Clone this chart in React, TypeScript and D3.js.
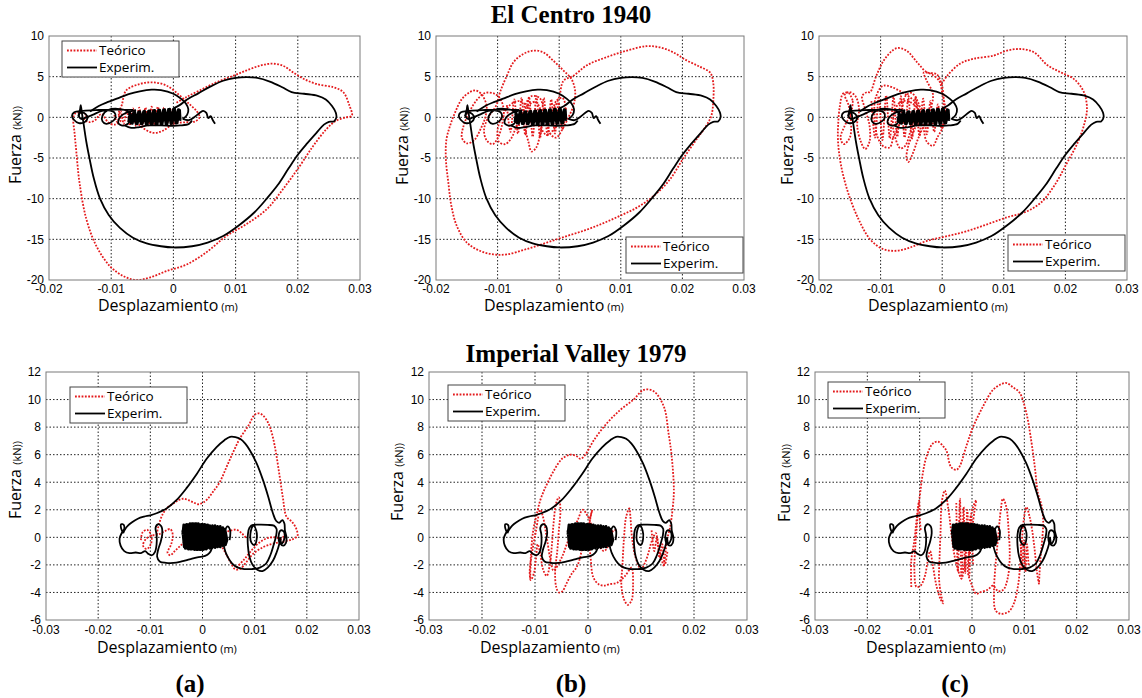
import React from 'react';
import * as d3 from 'd3';

type P = [number, number];

// ---------- text ----------
const titleTop = 'El Centro 1940';
const titleBottom = 'Imperial Valley 1979';
const panelLetters = ['(a)', '(b)', '(c)'];
const legendLabels = ['Teórico', 'Experim.'];
const yLabelMain = 'Fuerza ';
const yLabelUnit = '(kN))';
const xLabelMain = 'Desplazamiento';
const xLabelUnit = ' (m)';

// ---------- ticks ----------
const xTicksTop = [-0.02, -0.01, 0, 0.01, 0.02, 0.03];
const xTickLabelsTop = ['-0.02', '-0.01', '0', '0.01', '0.02', '0.03'];
const yTicksTop = [-20, -15, -10, -5, 0, 5, 10];
const yTickLabelsTop = ['-20', '-15', '-10', '-5', '0', '5', '10'];
const xTicksBottom = [-0.03, -0.02, -0.01, 0, 0.01, 0.02, 0.03];
const xTickLabelsBottom = ['-0.03', '-0.02', '-0.01', '0', '0.01', '0.02', '0.03'];
const yTicksBottom = [-6, -4, -2, 0, 2, 4, 6, 8, 10, 12];
const yTickLabelsBottom = ['-6', '-4', '-2', '0', '2', '4', '6', '8', '10', '12'];

// ---------- El Centro, experimental (same in a, b, c) ----------
const elcExpLoop: P[] = [[-0.0153,0.1],[-0.015,1.0],[-0.0149,1.5],[-0.0147,0.5],[-0.0144,-1],[-0.014,-3],[-0.0135,-5],[-0.0128,-7.5],[-0.0118,-10],[-0.0104,-12],[-0.0086,-13.6],[-0.0065,-14.8],[-0.0043,-15.5],[-0.002,-15.85],[0,-16],[0.003,-15.85],[0.0055,-15.4],[0.008,-14.6],[0.0105,-13.3],[0.013,-11.7],[0.015,-10],[0.0168,-8.3],[0.0185,-6.3],[0.02,-4.6],[0.0215,-3.2],[0.023,-1.9],[0.0242,-0.9],[0.025,-0.55],[0.0258,-0.5],[0.0262,0],[0.0261,0.6],[0.0255,1.4],[0.0245,2.2],[0.0232,2.65],[0.021,2.9],[0.019,3.1],[0.0175,3.7],[0.0155,4.4],[0.0135,4.85],[0.0118,4.95],[0.01,4.85],[0.008,4.5],[0.006,3.8],[0.004,2.95],[0.0022,2.2],[0.001,1.5],[0,1.1]];
const elcExpArc: P[] = [[-0.0134,0.7],[-0.012,1.4],[-0.0105,1.9],[-0.0091,2.3],[-0.0072,2.85],[-0.0054,3.2],[-0.0035,3.4],[-0.002,3.35],[0,2.9],[0.0012,2.3],[0.002,1.7],[0.0024,1.0],[0.0022,0.3],[0.0015,-0.2]];
const elcExpLeft: P[] = [[-0.0065,0.9],[-0.009,0.95],[-0.012,0.9],[-0.0145,0.8],[-0.016,0.6],[-0.0163,0.2],[-0.016,-0.3],[-0.0152,-0.7],[-0.0143,-0.6],[-0.0138,-0.1],[-0.0141,0.4],[-0.0148,0.6],[-0.0152,0.2],[-0.0148,-0.2],[-0.014,0.0],[-0.013,0.3],[-0.0115,0.8],[-0.0105,0.85],[-0.0095,0.6],[-0.0093,0],[-0.0098,-0.5],[-0.0108,-0.8],[-0.0114,-0.5],[-0.0114,0.2],[-0.0105,0.9],[-0.009,1.05],[-0.0075,0.8],[-0.0068,0.2],[-0.007,-0.5],[-0.0078,-1.0],[-0.0088,-0.8],[-0.0086,0],[-0.0075,0.6],[-0.006,0.9]];
const elcExpLower: P[] = [[-0.0078,-1.0],[-0.0068,-1.3],[-0.0055,-1.2],[-0.004,-1.0],[-0.002,-1.0],[0,-1.05],[0.0011,-1.0],[0.0025,-0.8],[0.003,-0.4]];
const elcExpTail: P[] = [[0.0015,-0.2],[0.0025,-0.35],[0.0035,0.1],[0.0043,0.6],[0.0048,0.8],[0.0053,0.55],[0.0056,-0.1],[0.006,0.15],[0.0063,-0.3],[0.0067,-0.8]];
const elcExpCluster: P[] = [[-0.0072,-0.6],[-0.007,0.55],[-0.0066,-0.75],[-0.0062,0.65],[-0.0058,-0.8],[-0.0054,0.7],[-0.005,-0.8],[-0.0046,0.75],[-0.0042,-0.85],[-0.0038,0.8],[-0.0034,-0.85],[-0.003,0.85],[-0.0026,-0.85],[-0.0022,0.9],[-0.0018,-0.8],[-0.0014,0.95],[-0.001,-0.8],[-0.0006,1.0],[-0.0002,-0.75],[0.0002,1.05],[0.0006,-0.7],[0.001,0.9],[0.0011,-0.3],[0.0008,0.95],[0.0004,-0.72],[0,1.0],[-0.0004,-0.78],[-0.0008,0.98],[-0.0012,-0.8],[-0.0016,0.92],[-0.002,-0.82],[-0.0024,0.88],[-0.0028,-0.85],[-0.0032,0.82],[-0.0036,-0.85],[-0.004,0.78],[-0.0044,-0.82],[-0.0048,0.72],[-0.0052,-0.8],[-0.0056,0.68],[-0.006,-0.78],[-0.0064,0.6],[-0.0068,-0.72],[-0.0071,0.5]];

// ---------- El Centro, theoretical (a) ----------
const elcTeoALoop: P[] = [[0.0005,1.8],[0.0021,2.5],[0.0042,3.3],[0.0069,4.3],[0.0096,5.1],[0.0117,5.75],[0.0139,6.35],[0.0158,6.6],[0.0176,6.35],[0.0192,5.55],[0.0209,4.75],[0.023,4.1],[0.0257,3.7],[0.0273,3.1],[0.0283,1.45],[0.0287,0.2],[0.0278,0],[0.0262,-0.4],[0.0246,-1.45],[0.0225,-3.5],[0.0203,-6],[0.0176,-8.85],[0.015,-11.3],[0.0117,-13.15],[0.0085,-14.6],[0.0053,-16.6],[0.0021,-18.1],[-0.0011,-18.9],[-0.0038,-19.7],[-0.006,-20],[-0.0081,-19.5],[-0.0102,-18.3],[-0.0124,-15.8],[-0.014,-12.5],[-0.0151,-8],[-0.0156,-4.3],[-0.0159,-1.85],[-0.0161,-0.2],[-0.0159,0.4],[-0.015,0.6],[-0.014,0.3],[-0.0143,-0.3],[-0.0135,-0.6],[-0.0125,-0.3],[-0.012,0.2],[-0.0115,0.4],[-0.0105,-0.6],[-0.0095,-0.9],[-0.0085,-0.4],[-0.0088,0.5],[-0.0083,1.5],[-0.0076,3.3],[-0.0054,4.1],[-0.0033,4.3],[-0.0011,3.9],[0.001,2.7],[0.0026,1.6],[0.0037,0.8],[0.0042,0],[0.0035,-0.5],[0.002,-0.6],[0,-0.8],[-0.0017,-1.65],[-0.0033,-1.9],[-0.0054,-1.0],[-0.006,-0.3],[-0.005,0.4],[-0.003,0.7],[-0.001,0.5],[0.0005,0.2]];
const elcTeoACluster: P[] = [[-0.0095,0.3],[-0.009,-0.6],[-0.0085,0.8],[-0.008,-0.8],[-0.0075,1.0],[-0.007,-1.0],[-0.0065,1.1],[-0.006,-1.1],[-0.0055,1.2],[-0.005,-1.1],[-0.0045,1.2],[-0.004,-1.0],[-0.0035,1.3],[-0.003,-1.0],[-0.0025,1.3],[-0.002,-0.9],[-0.0015,1.2],[-0.001,-0.8],[-0.0005,1.0],[0,-0.6],[0.0005,0.8]];

// ---------- El Centro, theoretical (b) ----------
const elcTeoBLoop: P[] = [[-0.001,0.8],[0,2.5],[0.0007,4.5],[0.0023,5.1],[0.0045,6.4],[0.0077,7.4],[0.011,8.2],[0.0142,8.75],[0.0164,8.6],[0.0185,8.0],[0.0207,7.0],[0.0229,6.2],[0.0245,5.5],[0.025,4.3],[0.025,1.85],[0.0247,0.2],[0.0239,-1.0],[0.0223,-2.7],[0.0201,-5.1],[0.018,-7.6],[0.0153,-9.7],[0.0126,-11.1],[0.0099,-12.1],[0.0072,-13],[0.0045,-13.8],[0.0012,-14.6],[-0.002,-15.4],[-0.0053,-16.2],[-0.0085,-16.85],[-0.0107,-16.85],[-0.0129,-16.4],[-0.015,-15.4],[-0.0166,-13.4],[-0.0175,-10.9],[-0.018,-8],[-0.0184,-5.1],[-0.0183,-2.7],[-0.0177,-1.0],[-0.0169,0.6],[-0.0158,2.25],[-0.0145,3.1],[-0.0135,3.3],[-0.0125,2.8]];
const elcTeoBSwirl: P[] = [[-0.0125,2.8],[-0.0118,1.5],[-0.012,0],[-0.0128,-1.5],[-0.0138,-2.8],[-0.015,-3.2],[-0.0158,-2.5],[-0.0155,-1.0],[-0.0145,0.8],[-0.0133,2.2],[-0.012,3.0],[-0.0105,2.9],[-0.0095,2.2],[-0.009,0.8],[-0.0093,-1.0],[-0.01,-2.6],[-0.0108,-3.3],[-0.0118,-2.8],[-0.0122,-1.5],[-0.0115,0],[-0.0102,1.5],[-0.0096,3.1],[-0.0085,5.1],[-0.0074,6.8],[-0.0058,7.8],[-0.0042,8.2],[-0.0026,8.0],[-0.001,7.0],[0.0007,5.75],[0.002,4.7],[0.0026,3.1],[0.0023,1.4],[0.0015,0],[0.0005,-1.5],[-0.0005,-2.5],[-0.0015,-2.0],[-0.002,-0.5],[-0.0025,1.0],[-0.0032,2.4],[-0.0045,2.6],[-0.0055,1.5],[-0.0058,0],[-0.0055,-1.5],[-0.005,-3.0],[-0.0045,-4.2],[-0.0038,-3.8],[-0.0032,-2.5],[-0.0028,-0.8],[-0.003,0.8],[-0.0038,1.9],[-0.0048,1.6],[-0.006,0.5],[-0.007,-1.2],[-0.0078,-2.6],[-0.0088,-3.3],[-0.0098,-3.0],[-0.01,-1.5],[-0.0092,0.2],[-0.008,1.5],[-0.0065,2.0],[-0.005,1.2],[-0.004,0],[-0.003,-1.3],[-0.002,-2.2],[-0.001,-1.6],[0,-0.5],[0.0008,0.5],[0.001,1.5],[0.0005,2.4],[-0.0005,2.0],[-0.001,0.8]];
const elcTeoBCluster: P[] = [[-0.0085,1.5],[-0.0079,-1.8],[-0.0073,2.2],[-0.0067,-2.0],[-0.0061,2.4],[-0.0055,-2.2],[-0.0049,2.5],[-0.0043,-2.4],[-0.0037,2.6],[-0.0031,-2.5],[-0.0025,2.4],[-0.0019,-2.3],[-0.0013,2.2],[-0.0007,-2.0],[-0.0001,1.8],[0.0005,-1.5],[0.0011,1.2]];

// ---------- El Centro, theoretical (c) ----------
const elcTeoCLoop: P[] = [[-0.0001,4.1],[0.0008,5.1],[0.0029,6.6],[0.0051,7.2],[0.0084,7.6],[0.0105,8.2],[0.0127,8.4],[0.0149,8.0],[0.0171,6.4],[0.0192,5.55],[0.0214,4.7],[0.023,3.1],[0.0235,1.0],[0.023,-1.0],[0.022,-3.1],[0.0203,-5.55],[0.0182,-8.4],[0.016,-10.5],[0.0133,-11.7],[0.0105,-12.3],[0.0073,-13.15],[0.004,-14],[0.0008,-14.6],[-0.0025,-15.2],[-0.0052,-16],[-0.0074,-16.4],[-0.0096,-16.2],[-0.0117,-15],[-0.0136,-12.5],[-0.0153,-9.2],[-0.0164,-6],[-0.0169,-3.1],[-0.0169,-1],[-0.0166,1.45],[-0.0161,2.9],[-0.0152,3.0],[-0.0145,2.0]];
const elcTeoCSwirl: P[] = [[-0.0145,2.0],[-0.0148,0.5],[-0.0158,-1.0],[-0.0165,-2.5],[-0.016,-3.3],[-0.015,-2.5],[-0.0148,-0.5],[-0.0152,1.5],[-0.0158,2.8],[-0.015,3.1],[-0.014,2.5],[-0.0135,1.0],[-0.0138,-1.0],[-0.0132,-3.0],[-0.0125,-3.9],[-0.0118,-3.0],[-0.0118,-1.0],[-0.0125,1.0],[-0.013,2.6],[-0.0122,3.1],[-0.0117,3.1],[-0.0107,5.1],[-0.0093,7.2],[-0.0074,8.5],[-0.0058,8.2],[-0.0041,6.8],[-0.0025,5.55],[-0.0009,5.3],[-0.0001,4.1],[0.0002,2.7],[0.0001,1.0],[-0.0008,-0.5]];
const elcTeoCSwirl2: P[] = [[-0.008,-2.5],[-0.007,-1.0],[-0.0065,1.0],[-0.006,2.6],[-0.005,3.0],[-0.004,2.0],[-0.0035,0.5],[-0.0045,-1.5],[-0.0055,-3.5],[-0.0058,-5.0],[-0.0055,-5.5],[-0.0048,-4.5],[-0.004,-2.8],[-0.003,-1.0],[-0.002,0.8],[-0.0015,2.8],[-0.0025,4.5],[-0.003,5.5],[-0.002,5.4],[-0.0005,4.5],[0,3.0],[0.0005,1.0],[0.0002,-1.0],[-0.0008,-2.5],[-0.0015,-3.5],[-0.0025,-3.0],[-0.003,-1.5],[-0.0035,0.5],[-0.005,1.8],[-0.0065,2.0],[-0.0075,1.2],[-0.008,-0.5],[-0.0078,-2.0],[-0.0068,-3.8],[-0.006,-3.5],[-0.0052,-1.8],[-0.0045,0],[-0.004,1.5],[-0.0095,3.9],[-0.0108,2.4],[-0.011,0.5],[-0.0105,-2.4],[-0.0095,-3.6],[-0.0085,-3.7],[-0.008,-2.5]];
const elcTeoCCluster: P[] = [[-0.0115,2.0],[-0.0109,-2.5],[-0.0103,2.6],[-0.0097,-2.8],[-0.0091,2.7],[-0.0085,-2.6],[-0.0079,2.5],[-0.0073,-2.4],[-0.0067,2.6],[-0.0061,-2.5],[-0.0055,2.4],[-0.0049,-2.6],[-0.0043,2.5],[-0.0037,-2.3],[-0.0031,2.3],[-0.0025,-2.1],[-0.0019,2.0],[-0.0013,-1.8],[-0.0007,1.6],[-0.0001,-1.4],[0.0005,1.2]];

// ---------- Imperial Valley, experimental (same in a, b, c) ----------
const ivExpHump: P[] = [[-0.0152,0.3],[-0.0149,0.55],[-0.0143,0.85],[-0.0135,1.1],[-0.0124,1.35],[-0.0112,1.5],[-0.01,1.6],[-0.0088,1.75],[-0.0069,2.1],[-0.005,2.7],[-0.0031,3.55],[-0.0011,4.6],[0.0008,5.7],[0.0027,6.55],[0.0042,7.05],[0.0053,7.3],[0.0063,7.28],[0.0072,7.15],[0.0082,6.8],[0.0091,6.3],[0.0104,5.35],[0.0116,4.15],[0.0126,2.95],[0.0135,1.75],[0.0141,1.2],[0.0147,1.05],[0.0153,1.25],[0.0157,1.0],[0.0158,0.5],[0.0161,0],[0.016,-0.4],[0.0155,-0.6],[0.0148,-0.4],[0.0146,0.1],[0.015,0.5],[0.0156,0.4],[0.0157,-0.1],[0.0152,-0.45],[0.0149,0]];
const ivExpLower: P[] = [[0.0149,0],[0.0147,-0.5],[0.0142,-1.1],[0.0135,-1.7],[0.0125,-2.2],[0.0115,-2.45],[0.0105,-2.35],[0.0096,-2.0],[0.009,-1.4],[0.0087,-0.6],[0.0087,0.2],[0.009,0.7],[0.0097,0.9],[0.0103,0.5],[0.0104,-0.1],[0.01,-0.55],[0.0094,-0.4],[0.0092,0.3],[0.0098,0.88],[0.011,0.92],[0.0125,0.9],[0.0137,0.85],[0.0142,0.6],[0.0141,0.1],[0.0136,-0.6],[0.013,-1.3],[0.0122,-1.9],[0.011,-2.2],[0.0095,-2.3],[0.008,-2.3],[0.0068,-2.2],[0.0057,-1.9],[0.0048,-1.4],[0.0042,-0.8],[0.004,-0.1],[0.0043,0.5],[0.0048,0.8],[0.0053,0.5],[0.0052,-0.2]];
const ivExpLeft: P[] = [[-0.0152,0.3],[-0.0156,0.65],[-0.0156,0.95],[-0.0151,0.9],[-0.015,0.6],[-0.0155,0.3],[-0.0159,-0.1],[-0.0157,-0.6],[-0.015,-1.0],[-0.014,-1.15],[-0.0128,-1.1],[-0.0118,-1.15],[-0.011,-1.0],[-0.0104,-1.2],[-0.0097,-1.3],[-0.0091,-1.05],[-0.0088,-0.5],[-0.0088,0.2],[-0.009,0.7],[-0.0085,0.95],[-0.0079,0.8],[-0.0077,0.3],[-0.008,-0.3],[-0.0085,-0.9],[-0.0087,-1.4],[-0.0082,-1.75],[-0.007,-1.85],[-0.0056,-1.86],[-0.004,-1.75],[-0.0025,-1.6],[-0.001,-1.45],[0.0005,-1.35],[0.0013,-1.15],[0.0018,-0.8],[0.002,-0.3]];
const ivExpCluster: P[] = [[-0.0038,0.2],[-0.0036,0.9],[-0.0033,-0.8],[-0.003,0.95],[-0.0027,-0.85],[-0.0024,1.0],[-0.0021,-0.85],[-0.0018,1.0],[-0.0015,-0.9],[-0.0012,1.0],[-0.0009,-0.9],[-0.0006,0.95],[-0.0003,-0.9],[0,0.95],[0.0003,-0.85],[0.0006,0.9],[0.0009,-0.8],[0.0014,0.85],[0.0019,-0.75],[0.0024,0.85],[0.0029,-0.7],[0.0034,0.8],[0.0039,-0.6],[0.0043,0.6],[0.0047,-0.2],[0.0044,-0.55],[0.0039,0.7],[0.0034,-0.7],[0.0029,0.8],[0.0024,-0.75],[0.0019,0.85],[0.0014,-0.8],[0.001,0.9],[0.0007,-0.85],[0.0004,0.95],[0.0001,-0.9],[-0.0002,0.95],[-0.0005,-0.9],[-0.0008,1.0],[-0.0011,-0.9],[-0.0014,1.0],[-0.0017,-0.85],[-0.002,1.0],[-0.0023,-0.85],[-0.0026,0.95],[-0.0029,-0.8],[-0.0032,0.9],[-0.0035,-0.7],[-0.0038,0.5]];

// ---------- Imperial Valley, theoretical (a) ----------
const ivTeoAHump: P[] = [[-0.0088,0.2],[-0.0083,1.0],[-0.0076,1.7],[-0.0066,2.2],[-0.0056,2.45],[-0.0046,2.7],[-0.0037,2.8],[-0.0027,2.7],[-0.0018,2.55],[-0.0008,2.4],[0.0002,2.55],[0.0009,2.75],[0.002,3.3],[0.0033,4.0],[0.0046,5.1],[0.0059,6.2],[0.0072,7.2],[0.0088,8.1],[0.01,8.9],[0.0108,9.0],[0.0116,8.85],[0.0126,8.3],[0.0134,7.4],[0.0141,6.1],[0.0148,4.4],[0.0154,2.9],[0.0161,1.5],[0.0172,1.1],[0.018,0.6],[0.0182,0.1],[0.0172,-0.15],[0.0155,-0.3],[0.0136,-0.45],[0.0117,-0.7],[0.0097,-1.2],[0.0084,-1.8],[0.0072,-2.3],[0.0062,-2.3],[0.0055,-1.9],[0.0045,-1.2],[0.0035,-0.6],[0.002,-0.3]];
const ivTeoADiag: P[] = [[0.0065,-2.2],[0.008,-1.6],[0.0095,-0.9],[0.011,-0.35],[0.0125,-0.05],[0.014,0.0],[0.0152,-0.1],[0.0158,0.3],[0.0155,-0.4]];
const ivTeoAWaves: P[] = [[-0.0118,-0.2],[-0.0115,0.35],[-0.0106,0.55],[-0.0098,0.1],[-0.0099,-0.5],[-0.0107,-0.85],[-0.0114,-0.6],[-0.0108,-0.1],[-0.0095,0.15],[-0.0085,0.2],[-0.0072,0.45],[-0.0062,0.6],[-0.0057,0.2],[-0.006,-0.5],[-0.0067,-1.1],[-0.0062,-1.3],[-0.0052,-0.95],[-0.0042,-0.6],[-0.003,-0.1],[-0.002,0.2],[-0.001,0.0],[0.0005,-0.3],[0.002,-0.3],[0.0035,0.2],[0.005,0.45],[0.0065,0.55],[0.0075,0.3],[0.0085,-0.1]];

// ---------- Imperial Valley, theoretical (b) ----------
const ivTeoBHump: P[] = [[-0.0109,-3.0],[-0.0108,-1.5],[-0.0105,0],[-0.0102,0.8],[-0.0096,1.8],[-0.009,2.7],[-0.0083,3.4],[-0.0077,3.9],[-0.0065,4.8],[-0.0049,5.7],[-0.0033,6.0],[-0.0022,5.9],[-0.0014,5.7],[-0.0005,6.0],[0.0011,7.05],[0.0036,8.3],[0.0061,9.25],[0.0086,10.0],[0.0105,10.7],[0.0124,10.6],[0.0143,9.5],[0.0152,7.55],[0.0158,5.85],[0.0162,3.4],[0.016,2.2],[0.0155,0.75],[0.0149,-0.2],[0.0146,-1.2],[0.0143,-2.1]];
const ivTeoBSwirl: P[] = [[0.0143,-2.1],[0.0138,-1.5],[0.0132,-0.5],[0.0128,0.3],[0.012,-0.3],[0.0115,-1.0],[0.0108,-1.8],[0.01,-2.3],[0.009,-1.5],[0.0083,0],[0.008,1.5],[0.0078,2.1],[0.0072,1.5],[0.0068,0],[0.0065,-2],[0.0063,-3.5],[0.0068,-4.5],[0.0075,-4.9],[0.0082,-4.6],[0.0085,-3.5],[0.0082,-2.2],[0.007,-2.8],[0.0055,-3.3],[0.004,-3.4],[0.003,-3.5],[0.002,-3.4],[0.001,-2.9],[0.0005,-1.5],[0.0002,0],[0.0003,1.2],[0.0008,2.0],[0.0005,1.5],[0,0.5],[-0.001,-0.5],[-0.0015,-1.5],[-0.0022,-2.2],[-0.003,-2.6],[-0.004,-3.3],[-0.0048,-3.9],[-0.0055,-4.0],[-0.006,-3.6],[-0.0062,-2.5],[-0.0058,-1.0],[-0.0055,0.5],[-0.0052,2.0],[-0.0055,2.9],[-0.006,2.5],[-0.0065,1.0],[-0.0068,-0.5],[-0.0072,-2.0],[-0.0078,-2.8],[-0.0085,-2.3],[-0.009,-1.2],[-0.0095,-0.5],[-0.0098,-1.5],[-0.0102,-2.6],[-0.0108,-3.1],[-0.011,-2.5],[-0.0105,-1.0],[-0.0098,0.5],[-0.009,2.0],[-0.0085,1.5],[-0.0078,0],[-0.007,-1.8],[-0.0065,-2.4],[-0.005,-1.5],[-0.004,-0.5],[-0.003,0.5],[-0.002,1.2],[-0.001,2.0],[0,1.5],[0.001,0.5],[0.002,-0.5],[0.003,-1.0],[0.004,-0.5],[0.0048,0.5],[0.0055,0.5]];
const ivTeoBRight: P[] = [[0.012,0.5],[0.0125,-1.0],[0.013,0],[0.0135,-1.5],[0.014,-0.5],[0.0145,-2],[0.015,-1]];

// ---------- Imperial Valley, theoretical (c) ----------
const ivTeoCHump: P[] = [[-0.0116,-3.6],[-0.0116,-1.67],[-0.011,-0.2],[-0.0106,1.24],[-0.01,2.94],[-0.0094,4.64],[-0.0087,5.85],[-0.0075,6.8],[-0.0065,6.94],[-0.0055,6.6],[-0.0049,6.3],[-0.004,5.1],[-0.003,4.9],[-0.0024,5.12],[-0.0011,6.6],[0.0002,8.0],[0.0021,9.5],[0.004,10.7],[0.0055,11.1],[0.0066,11.2],[0.0078,10.9],[0.0091,10.5],[0.0104,9.0],[0.0113,7.06],[0.012,5.12],[0.0126,3.18],[0.0132,2.45],[0.0136,1.24],[0.0134,-0.22],[0.0131,-1.43],[0.0129,-2.65],[0.0128,-3.4]];
const ivTeoCSwirl: P[] = [[0.0128,-3.4],[0.0124,-2.5],[0.012,-1.0],[0.0115,0.5],[0.011,1.5],[0.0104,2.2],[0.0098,1.0],[0.0095,-0.5],[0.0092,-2.0],[0.0088,-3.5],[0.008,-4.8],[0.007,-5.4],[0.0055,-5.55],[0.0045,-5.3],[0.0042,-4.0],[0.0045,-2.0],[0.005,0],[0.0055,2.0],[0.0059,2.8],[0.0065,2.3],[0.007,0.5],[0.0072,-1.5],[0.0068,-3.0],[0.006,-3.8],[0.005,-3.9],[0.004,-3.5],[0.003,-3.8],[0.0015,-4.0],[0.0008,-4.1],[0,-3.5],[-0.0008,-2.5],[-0.0005,-1.0],[0,0.5],[0.0005,2.0],[0.0008,2.7],[0.0002,2.2],[-0.0005,1.0],[-0.001,-0.5],[-0.0015,-2.0],[-0.002,-3.0],[-0.0028,-2.2],[-0.0035,-1.0],[-0.004,0.5],[-0.0045,2.0],[-0.0052,3.4],[-0.0058,2.5],[-0.006,0.5],[-0.0062,-1.5],[-0.0063,-3.0],[-0.0059,-4.2],[-0.0055,-4.8],[-0.006,-4.5],[-0.0068,-3.5],[-0.0075,-2.0],[-0.008,-1.0],[-0.0085,-1.8],[-0.009,-2.8],[-0.0098,-3.5],[-0.0106,-3.6],[-0.011,-2.5],[-0.0108,-0.5],[-0.0105,1.0],[-0.0103,2.2],[-0.0101,2.6],[-0.01,1.5],[-0.0098,0.5]];
const ivTeoCHatch: P[] = [[-0.003,2.5],[-0.0027,-2.5],[-0.0023,2.8],[-0.002,-3.0],[-0.0016,2.2],[-0.0013,-2.6],[-0.0009,2.0],[-0.0005,-2.8],[-0.0002,1.6],[0.0002,-2.0]];
const ivTeoCHatch2: P[] = [[0.0093,-0.5],[0.0096,-2.3],[0.0099,-0.2],[0.0102,-2.5],[0.0105,-0.5],[0.0108,-2.0]];

// ---------- layout ----------
const RED = '#e41a1c';
type PanelCfg = {
  id: string; xr: [number, number]; yr: [number, number]; xd: [number, number]; yd: [number, number];
  xTicks: number[]; xLabels: string[]; yTicks: number[]; yLabels: string[]; xLabY: number;
  teo: P[][]; exp: P[][]; expDense: P[][]; legend: [number, number]; yAxis: [number, number]; xAxis: [number, number];
};
const elcExp = [elcExpLoop, elcExpArc, elcExpLeft, elcExpLower, elcExpTail];
const ivExp = [ivExpHump, ivExpLower, ivExpLeft];
const top = { xd: [-0.02, 0.03] as [number, number], yd: [-20, 10] as [number, number], yr: [280, 36] as [number, number], xTicks: xTicksTop, xLabels: xTickLabelsTop, yTicks: yTicksTop, yLabels: yTickLabelsTop, xLabY: 293 };
const bot = { xd: [-0.03, 0.03] as [number, number], yd: [-6, 12] as [number, number], yr: [620, 372] as [number, number], xTicks: xTicksBottom, xLabels: xTickLabelsBottom, yTicks: yTicksBottom, yLabels: yTickLabelsBottom, xLabY: 634 };
const PANELS: PanelCfg[] = [
  { id: 'ta', ...top, xr: [49, 360], teo: [elcTeoACluster, elcTeoALoop], exp: elcExp, expDense: [elcExpCluster], legend: [62, 41], yAxis: [21, 145], xAxis: [98, 311] },
  { id: 'tb', ...top, xr: [436, 744], teo: [elcTeoBCluster, elcTeoBSwirl, elcTeoBLoop], exp: elcExp, expDense: [elcExpCluster], legend: [626, 237], yAxis: [408, 146], xAxis: [484, 311] },
  { id: 'tc', ...top, xr: [819, 1127], teo: [elcTeoCCluster, elcTeoCSwirl2, elcTeoCSwirl, elcTeoCLoop], exp: elcExp, expDense: [elcExpCluster], legend: [1008, 235], yAxis: [793, 146], xAxis: [868, 311] },
  { id: 'ba', ...bot, xr: [46, 359], teo: [ivTeoAWaves, ivTeoADiag, ivTeoAHump], exp: ivExp, expDense: [ivExpCluster], legend: [70, 387], yAxis: [21, 480], xAxis: [97, 653] },
  { id: 'bb', ...bot, xr: [429, 747], teo: [ivTeoBRight, ivTeoBSwirl, ivTeoBHump], exp: ivExp, expDense: [ivExpCluster], legend: [448, 385], yAxis: [403, 482], xAxis: [480, 653] },
  { id: 'bc', ...bot, xr: [815, 1129], teo: [ivTeoCHatch, ivTeoCHatch2, ivTeoCSwirl, ivTeoCHump], exp: ivExp, expDense: [ivExpCluster], legend: [828, 382], yAxis: [790, 483], xAxis: [866, 653] },
];
const LABEL_FONT = "'Open Sans', sans-serif";
const TICK_FONT = "'Liberation Sans', Arial, sans-serif";
const SERIF = "'Liberation Serif', 'Times New Roman', serif";

function Panel({ p }: { p: PanelCfg }) {
  const xs = d3.scaleLinear().domain(p.xd).range(p.xr);
  const ys = d3.scaleLinear().domain(p.yd).range(p.yr);
  const line = d3.line<P>().x(d => xs(d[0])).y(d => ys(d[1])).curve(d3.curveCatmullRom.alpha(0.5));
  const lineLin = d3.line<P>().x(d => xs(d[0])).y(d => ys(d[1]));
  const [L, R] = p.xr;
  const [B, T] = p.yr;
  const clipId = 'clip-' + p.id;
  const [lx, ly] = p.legend;
  return (
    <g>
      <defs>
        <clipPath id={clipId}><rect x={L} y={T} width={R - L} height={B - T} /></clipPath>
      </defs>
      {p.xTicks.slice(1, -1).map(t => (
        <line key={'gx' + t} x1={xs(t)} x2={xs(t)} y1={T} y2={B} stroke="#222" strokeWidth={1} strokeDasharray="1.5 2" />
      ))}
      {p.yTicks.slice(1, -1).map(t => (
        <line key={'gy' + t} x1={L} x2={R} y1={ys(t)} y2={ys(t)} stroke="#222" strokeWidth={1} strokeDasharray="1.5 2" />
      ))}
      <g clipPath={`url(#${clipId})`}>
        {p.teo.map((s, i) => (
          <path key={'t' + i} d={line(s) || ''} fill="none" stroke={RED} strokeWidth={1.8} strokeDasharray="1.8 1.5" />
        ))}
        {p.exp.map((s, i) => (
          <path key={'e' + i} d={line(s) || ''} fill="none" stroke="#000" strokeWidth={1.8} strokeLinejoin="round" />
        ))}
        {p.expDense.map((s, i) => (
          <path key={'d' + i} d={lineLin(s) || ''} fill="none" stroke="#000" strokeWidth={2.7} strokeLinejoin="round" />
        ))}
      </g>
      <rect x={L} y={T} width={R - L} height={B - T} fill="none" stroke="#7a7a7a" strokeWidth={1} />
      {p.xTicks.map((t, i) => (
        <text key={'xl' + t} x={xs(t)} y={p.xLabY} textAnchor="middle" fontFamily={TICK_FONT} fontSize={12} fill="#000">{p.xLabels[i]}</text>
      ))}
      {p.yTicks.map((t, i) => (
        <text key={'yl' + t} x={L - 5} y={ys(t) + 4.3} textAnchor="end" fontFamily={TICK_FONT} fontSize={12} fill="#000">{p.yLabels[i]}</text>
      ))}
      <g>
        <rect x={lx} y={ly} width={117} height={36} fill="#fff" stroke="#444" strokeWidth={1} />
        <line x1={lx + 5} x2={lx + 35} y1={ly + 9.5} y2={ly + 9.5} stroke={RED} strokeWidth={1.8} strokeDasharray="1.8 1.5" />
        <text x={lx + 37} y={ly + 14} fontFamily={LABEL_FONT} fontSize={13.5} fill="#000">{legendLabels[0]}</text>
        <line x1={lx + 5} x2={lx + 35} y1={ly + 26.5} y2={ly + 26.5} stroke="#000" strokeWidth={1.8} />
        <text x={lx + 37} y={ly + 31} fontFamily={LABEL_FONT} fontSize={13.5} fill="#000">{legendLabels[1]}</text>
      </g>
      <text transform={`translate(${p.yAxis[0]},${p.yAxis[1]}) rotate(-90)`} textAnchor="middle" fontFamily={LABEL_FONT} fill="#000">
        <tspan fontSize={16}>{yLabelMain}</tspan>
        <tspan fontSize={11}>{yLabelUnit}</tspan>
      </text>
      <text x={p.xAxis[0]} y={p.xAxis[1]} fontFamily={LABEL_FONT} fill="#000">
        <tspan fontSize={16}>{xLabelMain}</tspan>
        <tspan fontSize={11}>{xLabelUnit}</tspan>
      </text>
    </g>
  );
}

const letterX = [190, 571, 955];

export default function App() {
  return (
    <svg width={1142} height={698} style={{ position: 'absolute', left: 0, top: 0, background: '#fff' }}>
      <rect width={1142} height={698} fill="#fff" />
      <text x={571} y={23} textAnchor="middle" fontFamily={SERIF} fontWeight="bold" fontSize={25} fill="#000">{titleTop}</text>
      <text x={576} y={362} textAnchor="middle" fontFamily={SERIF} fontWeight="bold" fontSize={25} fill="#000">{titleBottom}</text>
      {PANELS.map(p => <Panel key={p.id} p={p} />)}
      {panelLetters.map((l, i) => (
        <text key={l} x={letterX[i]} y={692} textAnchor="middle" fontFamily={SERIF} fontWeight="bold" fontSize={25} fill="#000">{l}</text>
      ))}
    </svg>
  );
}
